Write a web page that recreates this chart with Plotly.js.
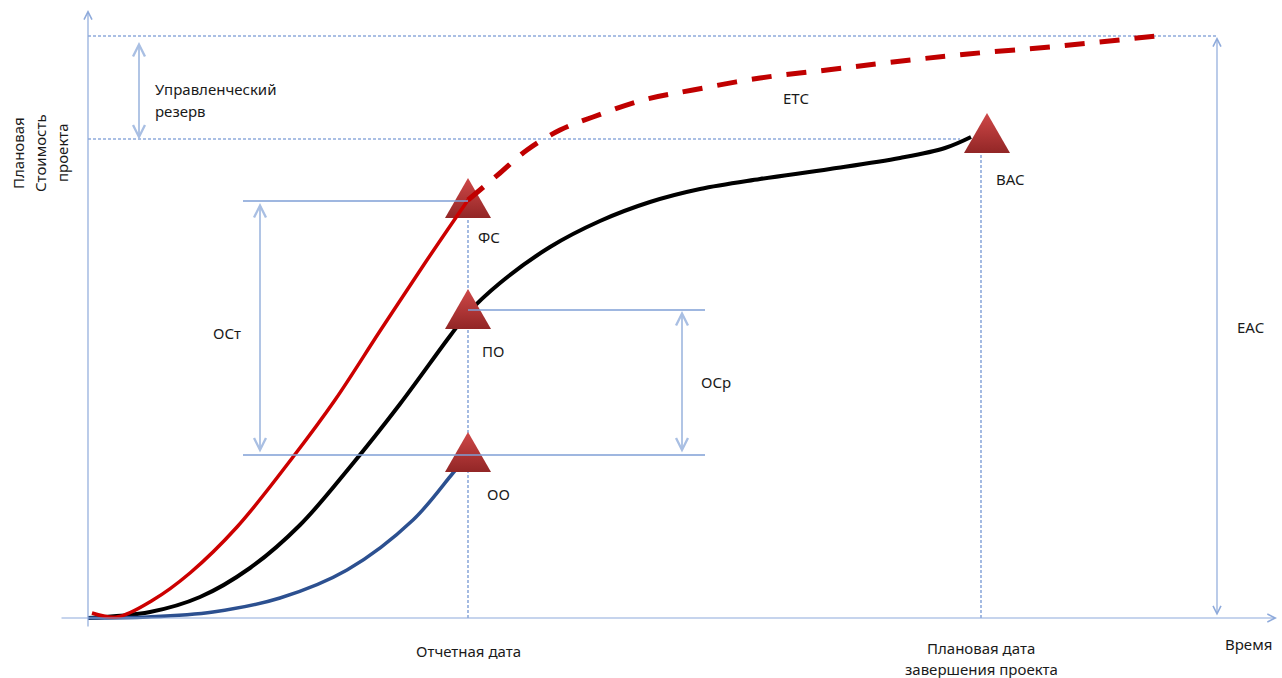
<!DOCTYPE html>
<html>
<head>
<meta charset="utf-8">
<script src="https://cdn.plot.ly/plotly-3.0.1.min.js"></script>
<style>html,body{margin:0;padding:0;background:#fff}#chart{width:1282px;height:678px}</style>
</head>
<body>
<div id="chart"></div>
<script>
// ---- Data (time units on x, cost units on y) ----
// Planned value (ПО) curve
const pvX = [0, 6.2, 11.2, 16.2, 21.2, 26.2, 31.2, 36.2, 38.0, 41.2, 46.2, 51.2, 56.2, 61.2, 67.2, 74.2, 81.2, 85.7, 88.3];
const pvY = [0, 0.6, 2.1, 5.0, 9.3, 15.1, 21.4, 28.2, 30.5, 33.5, 37.1, 39.7, 41.6, 42.9, 43.9, 44.9, 46.0, 47.0, 48.1];
// Actual cost (ФС) curve
const acX = [0.4, 2.9, 6.5, 10.2, 14.9, 20.5, 24.7, 29.2, 33.7, 38.0];
const acY = [0.5, 0.1, 1.8, 4.5, 9.1, 16.1, 21.8, 28.7, 35.5, 41.8];
// Earned value (ОО) curve
const evX = [0, 6.0, 12.5, 19.2, 25.9, 32.5, 36.5, 37.6];
const evY = [0, 0.1, 0.6, 2.0, 4.8, 9.8, 14.5, 15.8];
// Estimate to complete (ETC) forecast
const etcX = [38.0, 41.2, 43.9, 47.2, 50.5, 55.5, 60.5, 67.2, 73.9, 80.5, 88.0, 97.2, 107.7];
const etcY = [41.8, 44.5, 46.8, 48.8, 50.1, 51.8, 52.8, 54.0, 54.8, 55.6, 56.4, 57.2, 58.3];

// Key points (triangles)
const pointNames = ['ФС', 'ПО', 'ОО', 'BAC'];
const pointX = [38.0, 38.0, 38.0, 89.9];
const pointY = [41.7, 30.6, 16.3, 48.2];

// Reference values
const reportDate = 38.0;
const plannedFinish = 89.3;
const eacValue = 58.2;
const bacValue = 47.9;
const fsValue = 41.7;
const poValue = 30.8;
const ooValue = 16.3;

// Text labels
const yTitleLines = ['Плановая', 'Стоимость', 'проекта'];
const reserveLines = ['Управленческий', 'резерв'];
const xLabelReport = 'Отчетная дата';
const xLabelFinish = ['Плановая дата', 'завершения проекта'];
const xAxisTitle = 'Время';

// ---- Styles ----
const FONT = {family: 'Noto Sans, Open Sans, sans-serif', size: 15, color: '#1a1a1a'};
const AXIS_C = '#8eaadb';
const GUIDE_C = '#7f9fd6';
const ARROW_C = '#a9bfe3';
const TRI_HALF_W = 2.3, TRI_UP = 2.3, TRI_DOWN = 1.7;
const SMOOTH = 1;

const traces = [];
traces.push({x: pvX, y: pvY, mode: 'lines', line: {color: '#000000', width: 4, shape: 'spline', smoothing: SMOOTH}, hoverinfo: 'skip'});
traces.push({x: evX, y: evY, mode: 'lines', line: {color: '#2c5090', width: 3.5, shape: 'spline', smoothing: SMOOTH}, hoverinfo: 'skip'});
for (let i = 0; i < pointNames.length; i++) {
  const cx = pointX[i], cy = pointY[i];
  traces.push({
    x: [cx - TRI_HALF_W, cx + TRI_HALF_W, cx, cx - TRI_HALF_W],
    y: [cy - TRI_DOWN, cy - TRI_DOWN, cy + TRI_UP, cy - TRI_DOWN],
    mode: 'lines', fill: 'toself', line: {width: 0, color: 'rgba(0,0,0,0)'},
    fillcolor: '#b33535',
    fillgradient: {type: 'vertical', colorscale: [[0, '#922626'], [1, '#cf4848']]},
    hoverinfo: 'skip'
  });
}
traces.push({x: acX, y: acY, mode: 'lines', line: {color: '#cc0000', width: 3.5, shape: 'spline', smoothing: SMOOTH}, hoverinfo: 'skip'});
traces.push({x: etcX, y: etcY, mode: 'lines', line: {color: '#c00000', width: 5, dash: '20px,15px', shape: 'spline', smoothing: SMOOTH}, hoverinfo: 'skip'});

const dotLine = {color: AXIS_C, width: 1.6, dash: '3px,2px'};
const solidLine = {color: GUIDE_C, width: 1.3};
const shapes = [
  {type: 'line', layer: 'below', x0: 0, x1: 113.0, y0: eacValue, y1: eacValue, line: dotLine},
  {type: 'line', layer: 'below', x0: 0, x1: 87.2, y0: bacValue, y1: bacValue, line: dotLine},
  {type: 'line', layer: 'below', x0: reportDate, x1: reportDate, y0: 0, y1: fsValue, line: dotLine},
  {type: 'line', layer: 'below', x0: plannedFinish, x1: plannedFinish, y0: 0, y1: bacValue - 0.3, line: dotLine},
  {type: 'line', layer: 'above', x0: 15.5, x1: reportDate, y0: fsValue, y1: fsValue, line: solidLine},
  {type: 'line', layer: 'above', x0: 15.5, x1: 61.7, y0: ooValue, y1: ooValue, line: solidLine},
  {type: 'line', layer: 'above', x0: reportDate, x1: 61.7, y0: poValue, y1: poValue, line: solidLine}
];

function arrow(x, y, ax, ay, color, width, both) {
  return {x: x, y: y, ax: ax, ay: ay, xref: 'x', yref: 'y', axref: 'x', ayref: 'y',
    text: '', showarrow: true, arrowhead: 5, arrowsize: 1.3, arrowwidth: width, arrowcolor: color,
    arrowside: both ? 'end+start' : 'end', startarrowhead: 5, startarrowsize: 1.3,
    standoff: 0, startstandoff: 0};
}
function label(x, y, text, opts) {
  return Object.assign({x: x, y: y, xref: 'x', yref: 'y', text: text, showarrow: false, font: FONT}, opts || {});
}

const annotations = [
  // axes
  arrow(0, 60.8, 0, -1.0, AXIS_C, 1.2, false),
  arrow(118.9, 0, -2.8, 0, AXIS_C, 1.2, false),
  // dimension arrows
  arrow(5.1, 57.6, 5.1, 47.7, ARROW_C, 1.8, true),
  arrow(17.2, 41.5, 17.2, 16.4, ARROW_C, 1.8, true),
  arrow(59.4, 30.7, 59.4, 16.4, ARROW_C, 1.8, true),
  arrow(112.9, 58.1, 112.9, 0.1, AXIS_C, 1.2, true),
  // labels
  label(-7.0, 46.5, yTitleLines[0], {textangle: -90}),
  label(-4.8, 46.5, yTitleLines[1], {textangle: -90}),
  label(-2.6, 46.5, yTitleLines[2], {textangle: -90}),
  label(6.5, 52.9, reserveLines[0], {xanchor: 'left'}),
  label(6.5, 50.7, reserveLines[1], {xanchor: 'left'}),
  label(70.8, 52.0, 'ETC'),
  label(116.3, 29.1, 'EAC'),
  label(13.9, 28.5, 'ОСт'),
  label(62.8, 23.6, 'ОСр'),
  label(reportDate, -3.3, xLabelReport),
  label(plannedFinish, -3.0, xLabelFinish[0]),
  label(plannedFinish, -5.1, xLabelFinish[1]),
  label(116.0, -2.6, xAxisTitle)
];
const labelShifts = [[21, -36], [25, -39], [30, -39], [23, -43]];
for (let i = 0; i < pointNames.length; i++) {
  annotations.push(label(pointX[i], pointY[i], pointNames[i], {xshift: labelShifts[i][0], yshift: labelShifts[i][1]}));
}

const layout = {
  width: 1282, height: 678,
  margin: {l: 0, r: 0, t: 0, b: 0, pad: 0},
  paper_bgcolor: '#ffffff', plot_bgcolor: '#ffffff',
  showlegend: false, hovermode: false,
  xaxis: {range: [-8.8, 119.4], visible: false, fixedrange: true},
  yaxis: {range: [-6.0, 61.8], visible: false, fixedrange: true},
  shapes: shapes,
  annotations: annotations,
  font: FONT
};
Plotly.newPlot('chart', traces, layout, {staticPlot: true, displayModeBar: false});
</script>
</body>
</html>
